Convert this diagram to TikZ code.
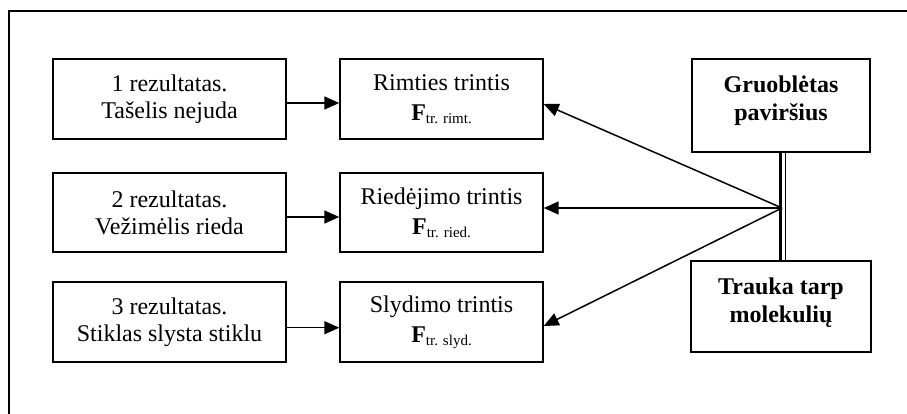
\documentclass[tikz,border=0pt]{standalone}
\usepackage{fontspec}
\setmainfont{Liberation Serif}
\usetikzlibrary{arrows.meta}
\newcommand{\upshift}[2]{\raisebox{#1}[\height][\depth]{\begin{tabular}{@{}c@{}}#2\end{tabular}}}
\newcommand{\forcesub}[1]{\textbf{F}\raisebox{-3pt}{\fontsize{15}{15}\selectfont #1}}
\begin{document}
\begin{tikzpicture}[x=1pt,y=-1pt,
  box/.style={draw,line width=1.4pt,inner sep=0pt,align=center,
    font=\fontsize{24}{27}\selectfont},
  conn/.style={line width=1.5pt,-{Triangle[length=15pt,width=13pt]}}]
\useasboundingbox (0,0) rectangle (907,414);
\clip (0,0) rectangle (907,414);
\draw[line width=1.4pt] (9,11) rectangle (940,440);
% left column
\node[box,minimum width=233pt,minimum height=80pt] (a1) at (169.5,99) {1 rezultatas.\\Tašelis nejuda};
\node[box,minimum width=233pt,minimum height=79pt] (a2) at (169.5,212.5) {2 rezultatas.\\Vežimėlis rieda};
\node[box,minimum width=233pt,minimum height=80pt] (a3) at (169.5,322) {3 rezultatas.\\Stiklas slysta stiklu};
% middle column
\node[box,minimum width=203pt,minimum height=80pt] (b1) at (441.5,99) {Rimties trintis\\[3pt]\forcesub{tr. rimt.}};
\node[box,minimum width=203pt,minimum height=79pt] (b2) at (441.5,212.5) {Riedėjimo trintis\\[3pt]\forcesub{tr. ried.}};
\node[box,minimum width=203pt,minimum height=80pt] (b3) at (441.5,322) {Slydimo trintis\\[3pt]\forcesub{tr. slyd.}};
% right column
\node[box,minimum width=178pt,minimum height=93pt,font=\fontsize{24}{28}\selectfont\bfseries] (g) at (781,105.5) {\upshift{5pt}{Gruoblėtas\\paviršius}};
\node[box,minimum width=180pt,minimum height=91pt,font=\fontsize{24}{28}\selectfont\bfseries] (t) at (781,306.5) {\upshift{4pt}{Trauka tarp\\molekulių}};
% double connector
\draw[line width=2.7pt] ([xshift=-0.7pt]g.south) -- ([xshift=-0.7pt]t.north);
\draw[line width=1.3pt] ([xshift=4.5pt]g.south) -- ([xshift=4.5pt]t.north);
\coordinate (j) at (782,208);
% row arrows
\draw[conn] ([yshift=-4pt]a1.east) -- ([yshift=-4pt]b1.west);
\draw[conn] ([yshift=-4.5pt]a2.east) -- ([yshift=-4.5pt]b2.west);
\draw[conn] ([yshift=-5.7pt]a3.east) -- ([yshift=-5.7pt]b3.west);
% from junction
\draw[conn] (j) -- ([yshift=-5pt]b1.east);
\draw[conn] (j) -- ([yshift=4.5pt]b2.east);
\draw[conn] (j) -- ([yshift=-4pt]b3.east);
\end{tikzpicture}
\end{document}
